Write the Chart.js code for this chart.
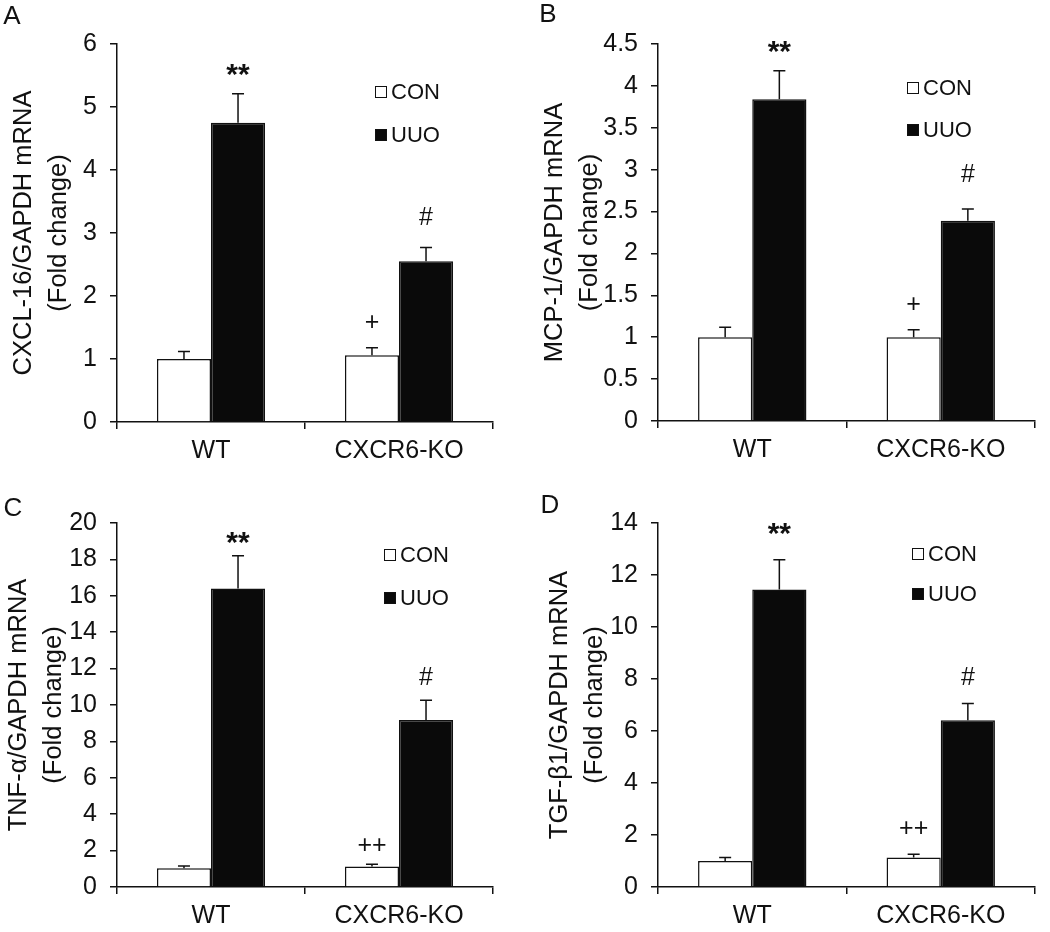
<!DOCTYPE html>
<html>
<head>
<meta charset="utf-8">
<script src="https://cdn.jsdelivr.net/npm/chart.js@4.4.0/dist/chart.umd.min.js"></script>
<style>
    body { margin: 0; background: #fff; }
    .panel { position: absolute; width: 525px; height: 466px; }
</style>
</head>
<body>
<div class="panel" style="left:0;top:0"><canvas id="chartA" width="525" height="466"></canvas></div>
<div class="panel" style="left:525px;top:0"><canvas id="chartB" width="525" height="466"></canvas></div>
<div class="panel" style="left:0;top:466px"><canvas id="chartC" width="525" height="466"></canvas></div>
<div class="panel" style="left:525px;top:466px"><canvas id="chartD" width="525" height="466"></canvas></div>
<script>
const groups = ['WT', 'CXCR6-KO'];
const seriesNames = ['CON', 'UUO'];

// A: CXCL-16
const aCon = [1.00, 1.06];
const aConErr = [0.12, 0.12];
const aUuo = [4.75, 2.55];
const aUuoErr = [0.46, 0.22];
const aConMarks = ['', '+'];
const aConMarkAt = [null, 1.6];
const aUuoMarks = ['**', '#'];
const aUuoMarkAt = [5.58, 3.27];
const aTicks = [0, 1, 2, 3, 4, 5, 6];

// B: MCP-1
const bCon = [1.00, 1.00];
const bConErr = [0.12, 0.09];
const bUuo = [3.84, 2.39];
const bUuoErr = [0.34, 0.14];
const bConMarks = ['', '+'];
const bConMarkAt = [null, 1.40];
const bUuoMarks = ['**', '#'];
const bUuoMarkAt = [4.47, 2.96];
const bTicks = [0, 0.5, 1, 1.5, 2, 2.5, 3, 3.5, 4, 4.5];

// C: TNF-alpha
const cCon = [1.03, 1.12];
const cConErr = [0.12, 0.13];
const cUuo = [16.4, 9.17];
const cUuoErr = [1.8, 1.09];
const cConMarks = ['', '++'];
const cConMarkAt = [null, 2.35];
const cUuoMarks = ['**', '#'];
const cUuoMarkAt = [19.2, 11.6];
const cTicks = [0, 2, 4, 6, 8, 10, 12, 14, 16, 18, 20];

// D: TGF-beta1
const dCon = [1.00, 1.13];
const dConErr = [0.13, 0.13];
const dUuo = [11.44, 6.41];
const dUuoErr = [1.15, 0.65];
const dConMarks = ['', '++'];
const dConMarkAt = [null, 2.28];
const dUuoMarks = ['**', '#'];
const dUuoMarkAt = [13.76, 8.1];
const dTicks = [0, 2, 4, 6, 8, 10, 12, 14];

const FONT = "'Liberation Sans', Arial, sans-serif";
const INK = '#111';

/* error bars (up only), significance marks, legend, panel letter */
const extrasPlugin = {
    id: 'extras',
    afterDatasetsDraw(chart, args, opts) {
        const ctx = chart.ctx;
        const y = chart.scales.y;
        ctx.save();
        chart.data.datasets.forEach((ds, i) => {
            const meta = chart.getDatasetMeta(i);
            meta.data.forEach((bar, j) => {
                const top = y.getPixelForValue(ds.data[j]);
                const cap = y.getPixelForValue(ds.data[j] + ds.errors[j]);
                ctx.strokeStyle = INK;
                ctx.lineWidth = 1.5;
                ctx.beginPath();
                ctx.moveTo(bar.x, top);
                ctx.lineTo(bar.x, cap);
                ctx.moveTo(bar.x - 6, cap);
                ctx.lineTo(bar.x + 6, cap);
                ctx.stroke();

                const mark = ds.marks[j];
                if (mark) {
                    // asterisks are drawn a bit heavier, as in the figure
                    ctx.font = mark === '**' ? 'bold 30px ' + FONT : '25px ' + FONT;
                    ctx.fillStyle = INK;
                    ctx.textAlign = 'center';
                    ctx.textBaseline = 'alphabetic';
                    const m = ctx.measureText(mark);
                    const yc = y.getPixelForValue(ds.markAt[j]);
                    ctx.fillText(mark, bar.x, yc + (m.actualBoundingBoxAscent - m.actualBoundingBoxDescent) / 2);
                }
            });
        });

        // legend
        const lg = opts.legend;
        ctx.font = '22px ' + FONT;
        ctx.textAlign = 'left';
        ctx.textBaseline = 'middle';
        chart.data.datasets.forEach((ds, i) => {
            const ly = lg.y + i * lg.gap;
            ctx.fillStyle = ds.backgroundColor;
            ctx.fillRect(lg.x, ly - 6, 12, 12);
            ctx.strokeStyle = INK;
            ctx.lineWidth = 1;
            ctx.strokeRect(lg.x + 0.5, ly - 5.5, 11, 11);
            ctx.fillStyle = INK;
            ctx.fillText(ds.label, lg.x + 16, ly + 1);
        });

        // panel letter
        ctx.font = '26px ' + FONT;
        ctx.textAlign = 'center';
        ctx.fillText(opts.letter.text, opts.letter.x, opts.letter.y);
        ctx.restore();
    }
};

function showPanel(canvasId, p) {
    const ctx = document.getElementById(canvasId).getContext('2d');
    new Chart(ctx, {
        type: 'bar',
        data: {
            labels: groups,
            datasets: [
                {
                    label: seriesNames[0],
                    data: p.con,
                    errors: p.conErr,
                    marks: p.conMarks,
                    markAt: p.conMarkAt,
                    backgroundColor: '#ffffff',
                    borderColor: INK,
                    borderWidth: 1.5,
                },
                {
                    label: seriesNames[1],
                    data: p.uuo,
                    errors: p.uuoErr,
                    marks: p.uuoMarks,
                    markAt: p.uuoMarkAt,
                    backgroundColor: '#0a0a0a',
                    borderColor: INK,
                    borderWidth: 1.5,
                },
            ],
        },
        options: {
            responsive: false,
            animation: false,
            layout: {
                padding: { left: 0, right: 525 - p.right, top: p.top, bottom: 0 },
            },
            categoryPercentage: 0.575,
            barPercentage: 1.0,
            plugins: {
                legend: { display: false },
                tooltip: { enabled: false },
                extras: { legend: p.legend, letter: p.letter },
            },
            scales: {
                x: {
                    afterFit: (scale) => { scale.height = 466 - p.bottom; },
                    grid: { drawOnChartArea: false, tickLength: 7, color: INK, lineWidth: 1.5 },
                    border: { color: INK, width: 1.5 },
                    ticks: { color: INK, padding: 7, font: { family: FONT, size: 25 } },
                },
                y: {
                    min: p.ticks[0],
                    max: p.ticks[p.ticks.length - 1],
                    afterFit: (scale) => { scale.width = p.left; },
                    afterBuildTicks: (scale) => { scale.ticks = p.ticks.map(v => ({ value: v })); },
                    grid: { drawOnChartArea: false, tickLength: 7, color: INK, lineWidth: 1.5 },
                    border: { color: INK, width: 1.5 },
                    ticks: {
                        color: INK,
                        padding: 13,
                        font: { family: FONT, size: 25 },
                        callback: (v) => String(v),
                    },
                    title: {
                        display: true,
                        text: p.title,
                        color: INK,
                        font: { family: FONT, size: 25.5, lineHeight: 1.38 },
                        padding: { top: p.titlePad, bottom: 0 },
                    },
                },
            },
        },
        plugins: [extrasPlugin],
    });
}

document.addEventListener('DOMContentLoaded', () => {
    showPanel('chartA', {
        con: aCon, conErr: aConErr, conMarks: aConMarks, conMarkAt: aConMarkAt,
        uuo: aUuo, uuoErr: aUuoErr, uuoMarks: aUuoMarks, uuoMarkAt: aUuoMarkAt,
        ticks: aTicks, title: ['CXCL-16/GAPDH mRNA', '(Fold change)'],
        left: 117, right: 493, top: 44, bottom: 422, titlePad: 6,
        legend: { x: 375, y: 92, gap: 43 }, letter: { text: 'A', x: 12, y: 17 },
    });
    showPanel('chartB', {
        con: bCon, conErr: bConErr, conMarks: bConMarks, conMarkAt: bConMarkAt,
        uuo: bUuo, uuoErr: bUuoErr, uuoMarks: bUuoMarks, uuoMarkAt: bUuoMarkAt,
        ticks: bTicks, title: ['MCP-1/GAPDH mRNA', '(Fold change)'],
        left: 133, right: 510, top: 44, bottom: 421, titlePad: 12,
        legend: { x: 382, y: 88, gap: 42 }, letter: { text: 'B', x: 23, y: 15 },
    });
    showPanel('chartC', {
        con: cCon, conErr: cConErr, conMarks: cConMarks, conMarkAt: cConMarkAt,
        uuo: cUuo, uuoErr: cUuoErr, uuoMarks: cUuoMarks, uuoMarkAt: cUuoMarkAt,
        ticks: cTicks, title: ['TNF-α/GAPDH mRNA', '(Fold change)'],
        left: 117, right: 493, top: 57, bottom: 421, titlePad: 1,
        legend: { x: 384, y: 89, gap: 43 }, letter: { text: 'C', x: 13, y: 43 },
    });
    showPanel('chartD', {
        con: dCon, conErr: dConErr, conMarks: dConMarks, conMarkAt: dConMarkAt,
        uuo: dUuo, uuoErr: dUuoErr, uuoMarks: dUuoMarks, uuoMarkAt: dUuoMarkAt,
        ticks: dTicks, title: ['TGF-β1/GAPDH mRNA', '(Fold change)'],
        left: 133, right: 510, top: 57, bottom: 421, titlePad: 17,
        legend: { x: 387, y: 88, gap: 40 }, letter: { text: 'D', x: 25, y: 40 },
    });
});
</script>
</body>
</html>
